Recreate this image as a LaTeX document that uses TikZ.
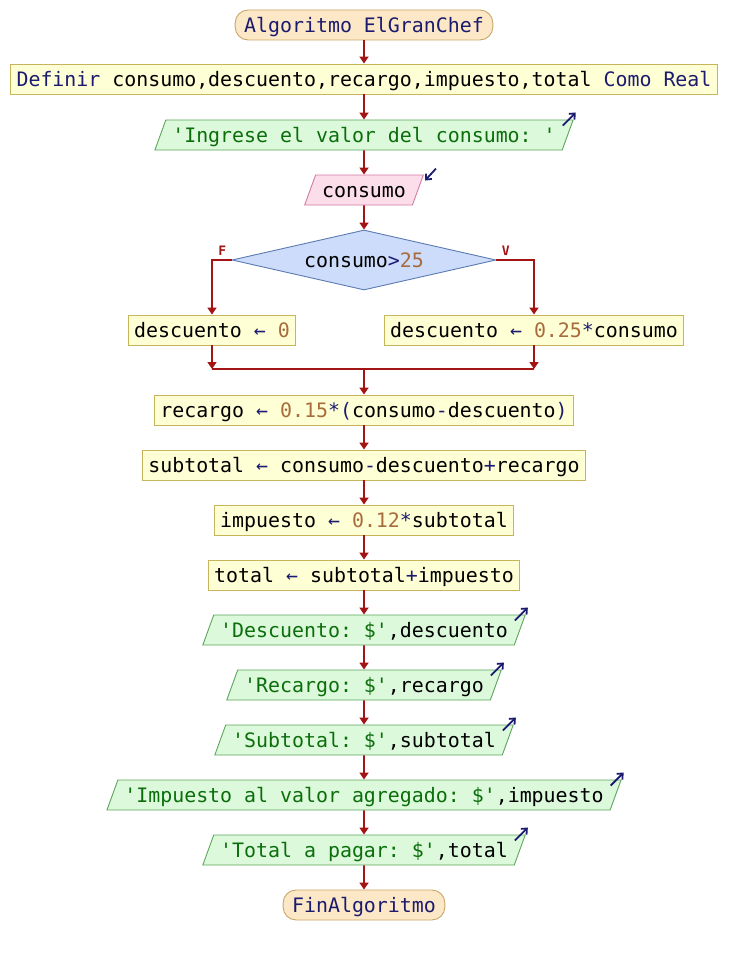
\documentclass[tikz,border=0pt]{standalone}
\usepackage{fontspec}
\setmonofont{DejaVu Sans Mono}
\usetikzlibrary{arrows.meta,positioning,calc,shapes.geometric}
\definecolor{kwnavy}{HTML}{1B1B6F}
\definecolor{strgreen}{HTML}{0B6E0B}
\definecolor{numbrown}{HTML}{A86B3C}
\definecolor{arrowred}{HTML}{A31515}
\definecolor{procfill}{HTML}{FFFFD5}
\definecolor{procline}{HTML}{C8B45A}
\definecolor{termfill}{HTML}{FCE8C6}
\definecolor{termline}{HTML}{C9A668}
\definecolor{outfill}{HTML}{DCF9DC}
\definecolor{outgreen}{HTML}{5CA65C}
\definecolor{infill}{HTML}{FCDDEA}
\definecolor{inpink}{HTML}{D37BA4}
\definecolor{condfill}{HTML}{CCDCFA}
\definecolor{condline}{HTML}{5C7BB0}
\newcommand{\kwd}[1]{\textcolor{kwnavy}{#1}}
\newcommand{\strg}[1]{\textcolor{strgreen}{#1}}
\newcommand{\numb}[1]{\textcolor{numbrown}{#1}}
\newcommand{\opr}[1]{\textcolor{kwnavy}{#1}}

\begin{document}
\begin{tikzpicture}[x=1pt,y=1pt,
  every node/.style={font=\ttfamily\fontsize{19.9}{24}\selectfont,text height=15pt,text depth=0pt,inner ysep=7.5pt,line width=0.9pt},
  proc/.style={rectangle,draw=procline,fill=procfill,inner xsep=6pt},
  term/.style={rectangle,rounded corners=13pt,draw=termline,fill=termfill,inner xsep=9pt},
  outbox/.style={trapezium,trapezium left angle=70,trapezium right angle=110,draw=outgreen,fill=outfill,inner xsep=6.5pt},
  inbox/.style={outbox,draw=inpink,fill=infill},
  cond/.style={diamond,aspect=4.4,draw=condline,fill=condfill,minimum width=264pt,minimum height=60pt,inner sep=0pt},
  flow/.style={draw=arrowred,line width=1.7pt,-{Triangle[width=9pt,length=7pt]}},
  merge/.style={draw=arrowred,line width=1.7pt},
  iomark/.style={draw=kwnavy,line width=1.8pt,-{Straight Barb[length=4.5pt,width=8pt]}},
  lbl/.style={font=\ttfamily\bfseries\fontsize{13}{14}\selectfont,text=arrowred,text height=9pt,inner sep=0pt}]
\useasboundingbox (0,0) rectangle (728,-955);

\node[term] (start) at (364,-25) {\kwd{Algoritmo ElGranChef}};
\node[proc] (def) at (364,-79) {\kwd{Definir} consumo,descuento,recargo,impuesto,total \kwd{Como Real}};
\node[outbox] (o0) at (364,-135) {\strg{'Ingrese el valor del consumo: '}};
\node[inbox] (in) at (364,-190) {consumo};
\node[cond] (cond) at (364,-260) {consumo\opr{>}\numb{25}};
\node[lbl,above left=4pt and 5pt of cond.west] (f) {F};
\node[lbl,above right=4pt and 5pt of cond.east] (v) {V};
\node[proc] (d0) at (212,-330) {descuento \opr{←} \numb{0}};
\node[proc] (d1) at (534,-330) {descuento \opr{←} \numb{0.25}\opr{*}consumo};
\coordinate (mrg) at (364,-369);
\node[proc] (r) at (364,-410) {recargo \opr{←} \numb{0.15}\opr{*(}consumo\opr{-}descuento\opr{)}};
\node[proc] (s) at (364,-465) {subtotal \opr{←} consumo\opr{-}descuento\opr{+}recargo};
\node[proc] (i) at (364,-520) {impuesto \opr{←} \numb{0.12}\opr{*}subtotal};
\node[proc] (t) at (364,-575) {total \opr{←} subtotal\opr{+}impuesto};
\node[outbox] (o1) at (364,-630) {\strg{'Descuento: \$'},descuento};
\node[outbox] (o2) at (364,-685) {\strg{'Recargo: \$'},recargo};
\node[outbox] (o3) at (364,-740) {\strg{'Subtotal: \$'},subtotal};
\node[outbox] (o4) at (364,-795) {\strg{'Impuesto al valor agregado: \$'},impuesto};
\node[outbox] (o5) at (364,-850) {\strg{'Total a pagar: \$'},total};
\node[term] (fin) at (364,-905) {\kwd{FinAlgoritmo}};

\foreach \a/\b in {start/def,def/o0,o0/in,in/cond,r/s,s/i,i/t,t/o1,o1/o2,o2/o3,o3/o4,o4/o5,o5/fin}
  \draw[flow] (\a) -- (\b);
\draw[flow] (cond.west) -| (d0.north);
\draw[flow] (cond.east) -| (d1.north);
\draw[merge] (d0 |- mrg) -- (d1 |- mrg);
\draw[flow] (d0) -- (d0 |- mrg);
\draw[flow] (d1) -- (d1 |- mrg);
\draw[flow] (mrg) -- (r);
% little arrows on the read / write boxes
\foreach \n in {o0,o1,o2,o3,o4,o5}
  \draw[iomark] ($(\n.top right corner)+(-11,-6)$) -- ++(13,13);
\draw[iomark] ($(in.top right corner)+(12,6)$) -- ++(-11,-12);
\end{tikzpicture}
\end{document}
